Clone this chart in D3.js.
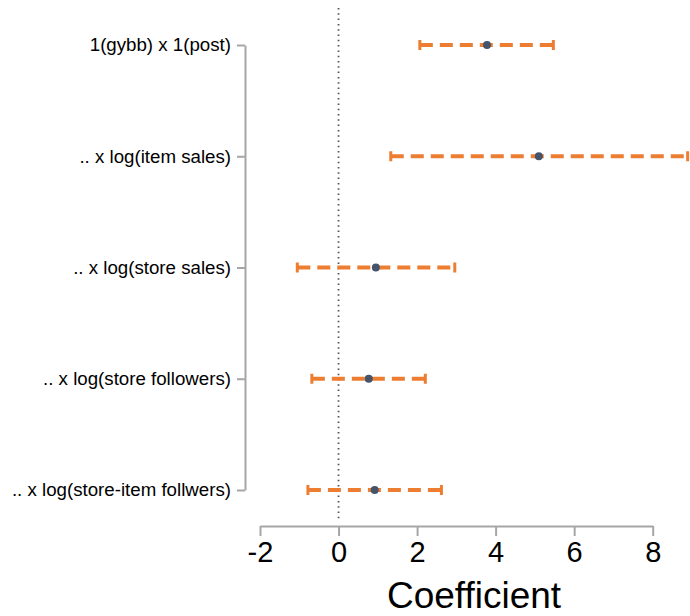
<!DOCTYPE html>
<html><head><meta charset="utf-8">
<script src="https://cdn.jsdelivr.net/npm/d3@7"></script>
<style>body{margin:0;background:#fff;} svg{display:block;font-family:Arial,"Liberation Sans",sans-serif;}</style>
</head><body>
<svg id="chart" width="690" height="616"></svg>
<script>
const categories = ["1(gybb) x 1(post)", ".. x log(item sales)", ".. x log(store sales)", ".. x log(store followers)", ".. x log(store-item follwers)"];
const estimates = [3.78, 5.10, 0.95, 0.77, 0.92];
const lower = [2.07, 1.33, -1.05, -0.68, -0.78];
const upper = [5.47, 8.89, 2.96, 2.21, 2.62];
const xTicks = [-2, 0, 2, 4, 6, 8];

const svg = d3.select("#chart");
const x = d3.scaleLinear().domain([-2, 8]).range([260, 652.7]);
const y = d3.scalePoint().domain(categories).range([45, 490]);

// zero reference line
svg.append("line").attr("x1", x(0)).attr("x2", x(0)).attr("y1", 8).attr("y2", 521)
  .attr("stroke", "#555").attr("stroke-width", 1.8).attr("stroke-dasharray", "1.5,3.8");

// x axis
const xa = svg.append("g").attr("transform", "translate(0,526)")
  .call(d3.axisBottom(x).tickValues(xTicks).tickSize(10).tickSizeOuter(0).tickPadding(5).tickFormat(d3.format("d")));
xa.attr("font-size", null).attr("font-family", null);
xa.select(".domain").attr("stroke", "#a6a6a6").attr("stroke-width", 2);
xa.selectAll(".tick line").attr("stroke", "#a6a6a6").attr("stroke-width", 2);
xa.selectAll(".tick text").style("font-size", "29px").attr("fill", "#000").text(d => d < 0 ? "-" + Math.abs(d) : d);

svg.append("text").attr("x", 474).attr("y", 608).attr("text-anchor", "middle")
  .style("font-size", "37px").attr("fill", "#000").text("Coefficient");

// y axis
const ya = svg.append("g").attr("transform", "translate(245,0)")
  .call(d3.axisLeft(y).tickSize(8).tickSizeOuter(0).tickPadding(6));
ya.attr("font-size", null).attr("font-family", null);
ya.select(".domain").attr("stroke", "#a6a6a6").attr("stroke-width", 2);
ya.selectAll(".tick line").attr("stroke", "#a6a6a6").attr("stroke-width", 2);
ya.selectAll(".tick text").style("font-size", "18.7px").attr("fill", "#000");

const orange = "#ED7D31";
const rows = categories.map((c, i) => ({c, est: estimates[i], lo: lower[i], hi: upper[i]}));
const g = svg.append("g");
g.selectAll("line.ci").data(rows).join("line").attr("class", "ci")
  .attr("x1", d => x(d.lo)).attr("x2", d => x(d.hi))
  .attr("y1", d => y(d.c)).attr("y2", d => y(d.c))
  .attr("stroke", orange).attr("stroke-width", 4).attr("stroke-dasharray", "13,7");
g.selectAll("line.capl").data(rows).join("line").attr("class", "capl")
  .attr("x1", d => x(d.lo)).attr("x2", d => x(d.lo))
  .attr("y1", d => y(d.c) - 5).attr("y2", d => y(d.c) + 5)
  .attr("stroke", orange).attr("stroke-width", 3);
g.selectAll("line.caph").data(rows).join("line").attr("class", "caph")
  .attr("x1", d => x(d.hi)).attr("x2", d => x(d.hi))
  .attr("y1", d => y(d.c) - 5).attr("y2", d => y(d.c) + 5)
  .attr("stroke", orange).attr("stroke-width", 3);
g.selectAll("circle").data(rows).join("circle")
  .attr("cx", d => x(d.est)).attr("cy", d => y(d.c)).attr("r", 4)
  .attr("fill", "#44546A");
</script>
</body></html>
